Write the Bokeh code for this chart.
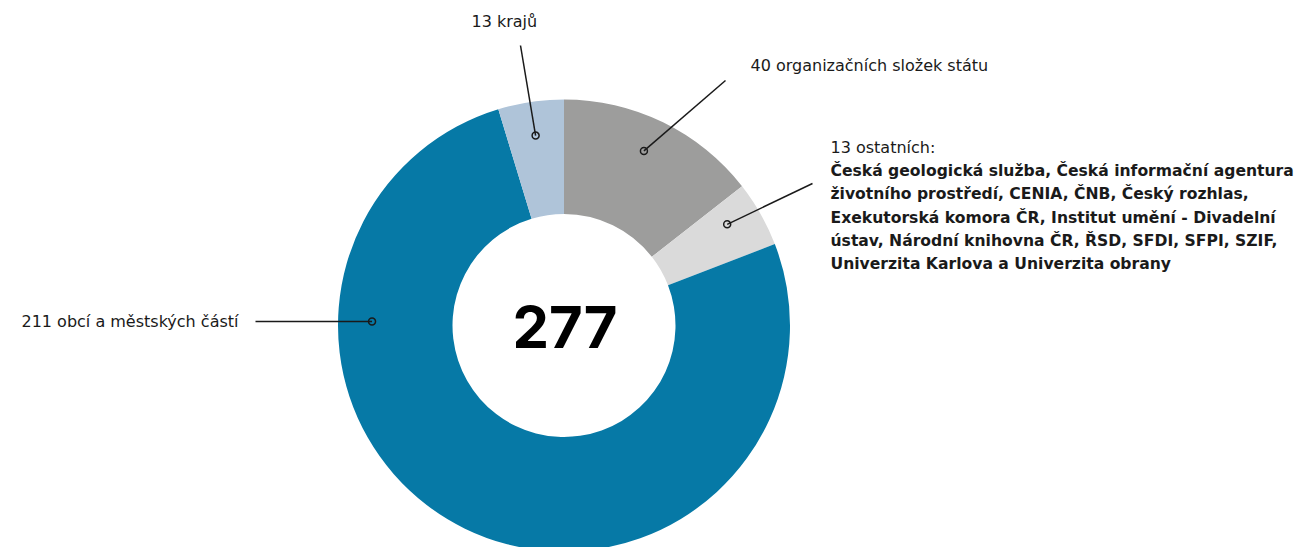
import numpy as np
from bokeh.plotting import figure
from bokeh.models import Range1d
from bokeh.core.properties import value
from bokeh.embed import file_html
from bokeh.resources import INLINE

# ---------------- data ----------------
categories = ["organizační složky státu", "ostatní", "obce a městské části", "kraje"]
counts = [40, 13, 211, 13]
colors = ["#9d9d9c", "#dadada", "#0679a6", "#afc4d9"]
labels = ["40 organizačních složek státu", "13 ostatních:",
          "211 obcí a městských částí", "13 krajů"]
others_lines = [
    "Česká geologická služba, Česká informační agentura",
    "životního prostředí, CENIA, ČNB, Český rozhlas,",
    "Exekutorská komora ČR, Institut umění - Divadelní",
    "ústav, Národní knihovna ČR, ŘSD, SFDI, SFPI, SZIF,",
    "Univerzita Karlova a Univerzita obrany",
]

# ---------------- layout (screen px) ----------------
W, H = 1296, 547
def sy(y):
    return H - y

BASE_SHIFT = 0.41   # empirical: rendered baseline offset (em)
def by(baseline, fs):
    return sy(baseline - BASE_SHIFT * fs)

cx, cy = 563.5, 325
R_OUT, R_IN = 226, 111.5
anchor_deg = [24.6, 58.2, 271.2, 351.5]   # clockwise from top
anchor_r = 192
label_ends = [(725, 80), (812, 183), (255, 321), (520, 45)]
label_pos = [(750, 72, "left"), (830, 153.5, "left"), (238, 328, "right"), (471, 28, "left")]

FONT = "DejaVu Sans"
FS = 16
FS_B = 15.6

p = figure(width=W, height=H, output_backend="svg", toolbar_location=None,
           x_range=Range1d(0, W), y_range=Range1d(0, H),
           x_axis_location=None, y_axis_location=None, min_border=0)
p.grid.visible = False
p.outline_line_color = None
p.background_fill_color = "white"
p.border_fill_color = "white"

# wedges: clockwise from top
total = sum(counts)
cum = np.concatenate([[0], np.cumsum(counts)]) / total * 2 * np.pi
starts = np.pi / 2 - cum[1:]
ends = np.pi / 2 - cum[:-1]
p.annular_wedge(x=cx, y=sy(cy), inner_radius=R_IN, outer_radius=R_OUT,
                start_angle=starts, end_angle=ends, fill_color=colors,
                line_color=None)

# leader lines
ax = [cx + anchor_r * np.sin(np.radians(a)) for a in anchor_deg]
ay = [sy(cy - anchor_r * np.cos(np.radians(a))) for a in anchor_deg]
ex = [e[0] for e in label_ends]
ey = [sy(e[1]) for e in label_ends]
p.segment(x0=ax, y0=ay, x1=ex, y1=ey, line_color="#1a1a1a", line_width=1.5)
p.scatter(x=ax, y=ay, marker="circle", size=7, fill_alpha=0,
          line_color="#1a1a1a", line_width=1.5)

# labels
for lab, (x, y, al) in zip(labels, label_pos):
    p.text(x=[x], y=[by(y, FS)], text=[lab], text_font=value(FONT),
           text_font_size=f"{FS}px", text_color="#1a1a1a", text_align=al,
           text_baseline="alphabetic")

p.text(x=[830] * len(others_lines),
       y=[by(177 + 23.2 * i, FS_B) for i in range(len(others_lines))],
       text=others_lines, text_font=value(FONT), text_font_size=f"{FS_B}px",
       text_font_style="bold", text_color="#1a1a1a", text_align="left",
       text_baseline="alphabetic")

# center total
p.text(x=[cx + 1], y=[by(350, 58)], text=[str(total)], text_font=value("Inter"),
       text_font_size="58px", text_font_style="bold", text_color="black",
       text_align="center", text_baseline="alphabetic")

open("out.html", "w").write(file_html(p, INLINE))
